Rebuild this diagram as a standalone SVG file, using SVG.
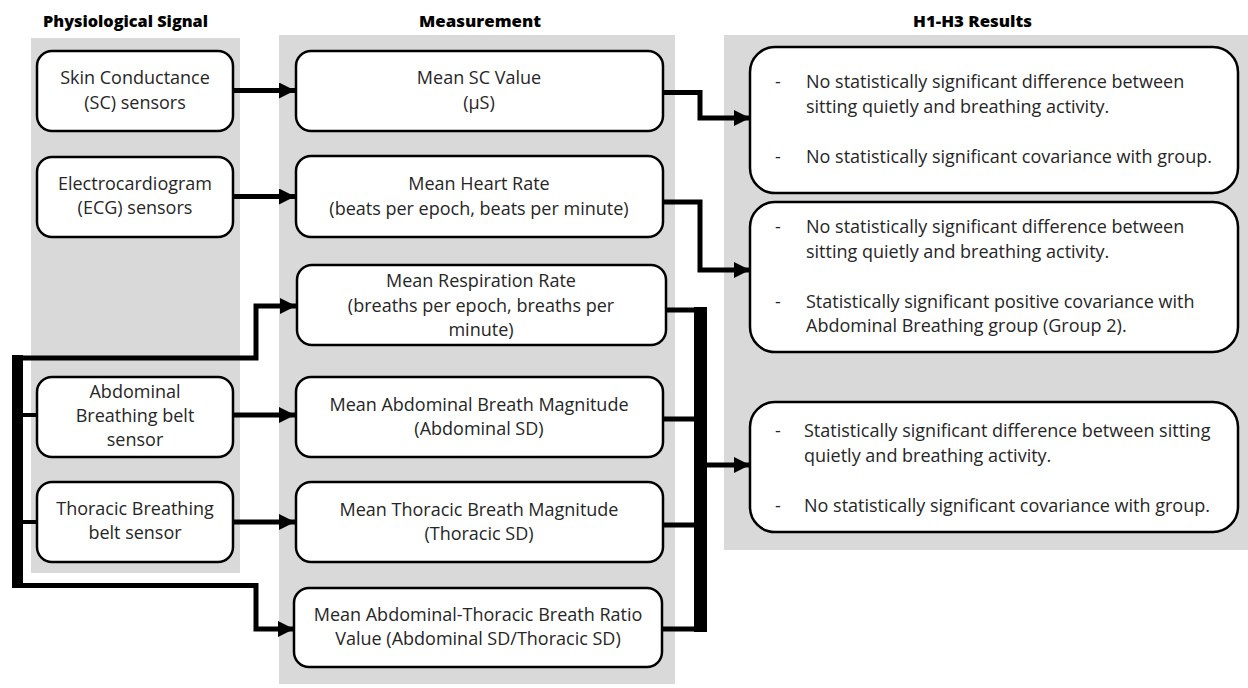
<svg xmlns="http://www.w3.org/2000/svg" width="1248" height="688" viewBox="0 0 1248 688">
<style>
.panel{fill:#d9d9d9;}
.node{fill:#fff;stroke:#000;stroke-width:2.5;}
.t{font-family:"Open Sans","Liberation Sans",sans-serif;font-size:18px;fill:#262626;}
.c{text-anchor:middle;}
.h{font-family:"Open Sans","Liberation Sans",sans-serif;font-size:16.5px;font-weight:800;fill:#000;text-anchor:middle;}
.ln{fill:none;stroke:#000;stroke-width:5;stroke-linejoin:miter;}
.bus{fill:#000;}
</style>
<defs>
<marker id="ah" markerUnits="userSpaceOnUse" markerWidth="16" markerHeight="16" viewBox="0 0 16 16" refX="16" refY="8" orient="auto">
<path d="M0,0 L16,8 L0,16 Z" fill="#000"/>
</marker>
</defs>

<g id="panels">
<rect class="panel" x="31" y="38" width="209" height="535"/>
<rect class="panel" x="279" y="35" width="396" height="649"/>
<rect class="panel" x="724" y="35" width="524" height="515"/>
</g>

<g id="headers">
<text class="h" x="125.5" y="27" textLength="165" lengthAdjust="spacingAndGlyphs">Physiological Signal</text>
<text class="h" x="480" y="27" textLength="122" lengthAdjust="spacingAndGlyphs">Measurement</text>
<text class="h" x="972.5" y="27" textLength="119" lengthAdjust="spacingAndGlyphs">H1-H3 Results</text>
</g>

<g id="connectors">
<line class="ln" x1="233" y1="90.5" x2="295" y2="90.5" marker-end="url(#ah)"/>
<line class="ln" x1="233" y1="196.5" x2="295" y2="196.5" marker-end="url(#ah)"/>
<line class="ln" x1="233" y1="415" x2="295" y2="415" marker-end="url(#ah)"/>
<line class="ln" x1="233" y1="522" x2="295" y2="522" marker-end="url(#ah)"/>
<rect class="bus" x="12" y="355" width="11" height="233"/>
<polyline class="ln" points="12,358 256,358 256,306 296,306" marker-end="url(#ah)"/>
<polyline class="ln" points="12,585.5 256,585.5 256,629 294,629" marker-end="url(#ah)"/>
<line class="ln" style="stroke-width:4" x1="23" y1="415" x2="37" y2="415"/>
<line class="ln" style="stroke-width:4" x1="23" y1="522" x2="37" y2="522"/>
<polyline class="ln" points="663,92.5 700,92.5 700,118 750,118" marker-end="url(#ah)"/>
<polyline class="ln" points="663,202 700,202 700,270 750,270" marker-end="url(#ah)"/>
<rect class="bus" x="694" y="307" width="13" height="325"/>
<line class="ln" x1="666" y1="310" x2="700" y2="310"/>
<line class="ln" x1="663" y1="419" x2="700" y2="419"/>
<line class="ln" x1="663" y1="525" x2="700" y2="525"/>
<line class="ln" x1="662" y1="629" x2="700" y2="629"/>
<line class="ln" x1="707" y1="465" x2="750" y2="465" marker-end="url(#ah)"/>
</g>

<g id="n-sc">
<rect class="node" x="37" y="51" width="196" height="80" rx="15"/>
<text class="t c" x="135" y="84">Skin Conductance</text>
<text class="t c" x="135" y="109">(SC) sensors</text>
</g>
<g id="n-ecg">
<rect class="node" x="37" y="157" width="196" height="80" rx="15"/>
<text class="t c" x="135" y="190">Electrocardiogram</text>
<text class="t c" x="135" y="214">(ECG) sensors</text>
</g>
<g id="n-abd">
<rect class="node" x="37" y="377" width="196" height="80" rx="15"/>
<text class="t c" x="135" y="398">Abdominal</text>
<text class="t c" x="135" y="422">Breathing belt</text>
<text class="t c" x="135" y="446">sensor</text>
</g>
<g id="n-tho">
<rect class="node" x="37" y="482" width="196" height="80" rx="15"/>
<text class="t c" x="135" y="515">Thoracic Breathing</text>
<text class="t c" x="135" y="539">belt sensor</text>
</g>

<g id="m-sc">
<rect class="node" x="296" y="51" width="367" height="80" rx="15"/>
<text class="t c" x="479" y="84">Mean SC Value</text>
<text class="t c" x="479" y="109">(µS)</text>
</g>
<g id="m-hr">
<rect class="node" x="296" y="156" width="367" height="81" rx="15"/>
<text class="t c" x="479" y="190">Mean Heart Rate</text>
<text class="t c" x="479" y="215">(beats per epoch, beats per minute)</text>
</g>
<g id="m-rr">
<rect class="node" x="297" y="265" width="369" height="80" rx="15"/>
<text class="t c" x="481" y="287">Mean Respiration Rate</text>
<text class="t c" x="481" y="312">(breaths per epoch, breaths per</text>
<text class="t c" x="481" y="336">minute)</text>
</g>
<g id="m-abd">
<rect class="node" x="296" y="377" width="367" height="80" rx="15"/>
<text class="t c" x="479" y="411">Mean Abdominal Breath Magnitude</text>
<text class="t c" x="479" y="435">(Abdominal SD)</text>
</g>
<g id="m-tho">
<rect class="node" x="296" y="482" width="367" height="80" rx="15"/>
<text class="t c" x="479" y="516">Mean Thoracic Breath Magnitude</text>
<text class="t c" x="479" y="540">(Thoracic SD)</text>
</g>
<g id="m-ratio">
<rect class="node" x="294" y="588" width="368" height="79" rx="15"/>
<text class="t c" x="478" y="621">Mean Abdominal-Thoracic Breath Ratio</text>
<text class="t c" x="478" y="645">Value (Abdominal SD/Thoracic SD)</text>
</g>

<g id="r1">
<rect class="node" x="750" y="47" width="488" height="146" rx="25"/>
<text class="t" x="775" y="88">-</text>
<text class="t" x="806" y="88">No statistically significant difference between</text>
<text class="t" x="806" y="113">sitting quietly and breathing activity.</text>
<text class="t" x="775" y="163">-</text>
<text class="t" x="806" y="163">No statistically significant covariance with group.</text>
</g>
<g id="r2">
<rect class="node" x="750" y="202" width="488" height="150" rx="25"/>
<text class="t" x="775" y="233">-</text>
<text class="t" x="806" y="233">No statistically significant difference between</text>
<text class="t" x="806" y="258">sitting quietly and breathing activity.</text>
<text class="t" x="775" y="308">-</text>
<text class="t" x="806" y="308">Statistically significant positive covariance with</text>
<text class="t" x="806" y="332">Abdominal Breathing group (Group 2).</text>
</g>
<g id="r3">
<rect class="node" x="750" y="402" width="488" height="130" rx="25"/>
<text class="t" x="775" y="437">-</text>
<text class="t" x="804" y="437">Statistically significant difference between sitting</text>
<text class="t" x="804" y="462">quietly and breathing activity.</text>
<text class="t" x="775" y="512">-</text>
<text class="t" x="804" y="512">No statistically significant covariance with group.</text>
</g>
</svg>
